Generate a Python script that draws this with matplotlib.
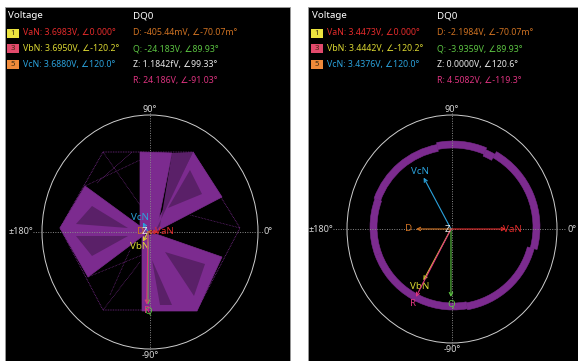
import matplotlib
matplotlib.use("Agg")
import matplotlib.pyplot as plt
from matplotlib.patches import Rectangle, Ellipse, Polygon, Wedge
import numpy as np

plt.rcParams['font.family'] = ['Noto Sans', 'DejaVu Sans']

# ---- readings shown on the two scope screens ----
phase_names = ["VaN", "VbN", "VcN"]
badge_nums = ["1", "3", "5"]
left_phase_mag = [3.6983, 3.6950, 3.6880]
left_phase_ang = [0.000, -120.2, 120.0]
right_phase_mag = [3.4473, 3.4442, 3.4376]
right_phase_ang = [0.000, -120.2, 120.0]

dq_names = ["D", "Q", "Z", "R"]
left_dq_text = ["-405.44mV, \u2220-70.07m\u00b0", "-24.183V, \u222089.93\u00b0",
                "1.1842fV, \u222099.33\u00b0", "24.186V, \u2220-91.03\u00b0"]
left_dq_mag = [-0.40544, -24.183, 1.1842e-15, 24.186]
left_dq_ang = [-0.07007, 89.93, 99.33, -91.03]
right_dq_text = ["-2.1984V, \u2220-70.07m\u00b0", "-3.9359V, \u222089.93\u00b0",
                 "0.0000V, \u2220120.6\u00b0", "4.5082V, \u2220-119.3\u00b0"]
right_dq_mag = [-2.1984, -3.9359, 0.0, 4.5082]
right_dq_ang = [-0.07007, 89.93, 120.6, -119.3]

phase_colors = ["#e32b2b", "#dcd832", "#2ba2dc"]
badge_colors = ["#ece43e", "#e24a6c", "#f08a3a"]
dq_colors = ["#cf7222", "#5cc442", "#e8e8e8", "#dc337f"]
purple = "#7c2b8f"

# left trace: hexagon outline and solid blades (screen pixels)
hex_x = [103, 193, 240, 197, 103, 60, 103]
hex_y = [152, 152, 228, 310, 310, 228, 152]
blades = [
    [(140, 234), (140, 152), (172, 153), (157, 228)],
    [(151, 234), (193, 152), (222, 197)],
    [(148, 232), (85, 186), (60, 228), (88, 277)],
    [(142, 236), (142, 311), (197, 311), (222, 257), (156, 234)],
]
blade_shade = [
    [(160, 226), (172, 153), (193, 152), (155, 232)],
    [(168, 208), (190, 170), (202, 194)],
    [(76, 224), (92, 206), (128, 228)],
    [(76, 236), (92, 256), (128, 236)],
    [(165, 252), (194, 296), (205, 264)],
    [(152, 260), (160, 305), (172, 305)],
]
sparse_x = [[103, 140], [85, 140], [97, 132], [222, 160], [240, 190], [88, 142], [103, 140], [110, 130]]
sparse_y = [[152, 205], [186, 160], [183, 152], [197, 220], [228, 215], [277, 255], [310, 262], [295, 250]]

# right trace: ring segments (start deg, end deg, outer radius px)
ring_start = [-15, 60, 67, 101, 160, 200, 280]
ring_end = [60, 67, 101, 160, 200, 280, 345]
ring_outer = [87, 84, 86, 84, 83, 83, 84]

fig = plt.figure(figsize=(5.78, 3.61), dpi=100)
ax = fig.add_axes([0, 0, 1, 1])
ax.set_xlim(0, 578)
ax.set_ylim(361, 0)
ax.axis('off')

ax.add_patch(Rectangle((5, 7), 285, 360, facecolor='black', edgecolor='#9a9a9a', lw=0.6))
ax.add_patch(Rectangle((308, 7), 272, 360, facecolor='black', edgecolor='#9a9a9a', lw=0.6))


def header(x0, mags, angs, dq_text):
    ax.text(x0 + 8, 16, "Voltage", color='white', fontsize=7, va='center')
    ax.text(x0 + 133, 16, "DQ0", color='white', fontsize=7, va='center')
    for i in range(3):
        y = 33 + i * 15.5
        ax.add_patch(Rectangle((x0 + 7, y - 4.5), 12, 9, facecolor=badge_colors[i], edgecolor='none'))
        ax.text(x0 + 13, y + 0.3, badge_nums[i], color='#3a2a10', fontsize=5.5, ha='center', va='center')
        s = "%s: %.4fV, \u2220%s\u00b0" % (phase_names[i], mags[i],
                                          "%.3f" % angs[i] if angs[i] == 0 else "%.1f" % angs[i])
        ax.text(x0 + 23, y, s, color=phase_colors[i], fontsize=6.3, va='center')
    for i in range(4):
        y = 33 + i * 15.8
        ax.text(x0 + 133, y, "%s: %s" % (dq_names[i], dq_text[i]), color=dq_colors[i],
                fontsize=6.3, va='center')


def polar_frame(cx, cy, rx, ry, lab_l, lab_r):
    ax.add_patch(Ellipse((cx, cy), 2 * rx, 2 * ry, fill=False, edgecolor='#cfcfcf', lw=0.7))
    ax.plot([lab_l, lab_r], [cy, cy], color='#8a8a8a', lw=0.7, ls=(0, (1, 1.5)))
    ax.plot([cx, cx], [cy - ry - 2, cy + ry + 2], color='#8a8a8a', lw=0.7, ls=(0, (1, 1.5)))
    ax.text(cx, cy - ry - 6, "90\u00b0", color='#d8d8d8', fontsize=6.5, ha='center', va='center')
    ax.text(cx, cy + ry + 7, "-90\u00b0", color='#d8d8d8', fontsize=6.5, ha='center', va='center')
    ax.text(lab_l, cy, "\u00b1180\u00b0", color='#d8d8d8', fontsize=6.5, ha='right', va='center')
    ax.text(lab_r + 1, cy, "0\u00b0", color='#d8d8d8', fontsize=6.5, ha='left', va='center')


def vectors(cx, cy, rx, ry, full, names, mags, angs, colors, off=7):
    for n, m, a, c in zip(names, mags, angs, colors):
        t = np.deg2rad(a)
        tx = cx + m / full * rx * np.cos(t)
        ty = cy - m / full * ry * np.sin(t)
        if n == "Z":
            ax.text(cx - 1, cy, "Z", color=c, fontsize=7, ha='right', va='center', zorder=5)
            continue
        ax.annotate('', xy=(tx, ty), xytext=(cx, cy),
                    arrowprops=dict(arrowstyle='->', color=c, lw=0.8, mutation_scale=6,
                                    shrinkA=0, shrinkB=0))
        dx, dy = tx - cx, ty - cy
        d = np.hypot(dx, dy)
        ax.text(tx + off * dx / d, ty + off * dy / d, n, color=c, fontsize=7,
                ha='center', va='center')


# ---- left screen ----
header(0, left_phase_mag, left_phase_ang, left_dq_text)
polar_frame(150, 232, 108, 117, 33, 263)
ax.plot(hex_x, hex_y, color=purple, lw=0.6, ls=(0, (1, 1)))
for xs, ys in zip(sparse_x, sparse_y):
    ax.plot(xs, ys, color=purple, lw=0.5, ls=(0, (1, 1.2)))
for b in blades:
    ax.add_patch(Polygon(b, closed=True, facecolor=purple, edgecolor=purple, lw=0.5))
for b in blade_shade:
    ax.add_patch(Polygon(b, closed=True, facecolor='#5a2068', edgecolor='none'))
vectors(148, 232, 108, 117, 39.0, phase_names, left_phase_mag, left_phase_ang, phase_colors, off=6)
vectors(148, 232, 108, 117, 39.0, dq_names, left_dq_mag, left_dq_ang, dq_colors, off=6)

# ---- right screen ----
header(304, right_phase_mag, right_phase_ang, right_dq_text)
polar_frame(452, 229, 105, 114, 333, 566)
for s, e, r in zip(ring_start, ring_end, ring_outer):
    ax.add_patch(Wedge((453, 227), r, -e, -s, width=7, facecolor=purple, edgecolor=purple, lw=0.4))
vectors(451, 229, 105, 114, 6.6, phase_names, right_phase_mag, right_phase_ang, phase_colors)
vectors(451, 229, 105, 114, 6.6, dq_names, right_dq_mag, right_dq_ang, dq_colors)

fig.savefig("out.png", dpi=100, facecolor='white')
